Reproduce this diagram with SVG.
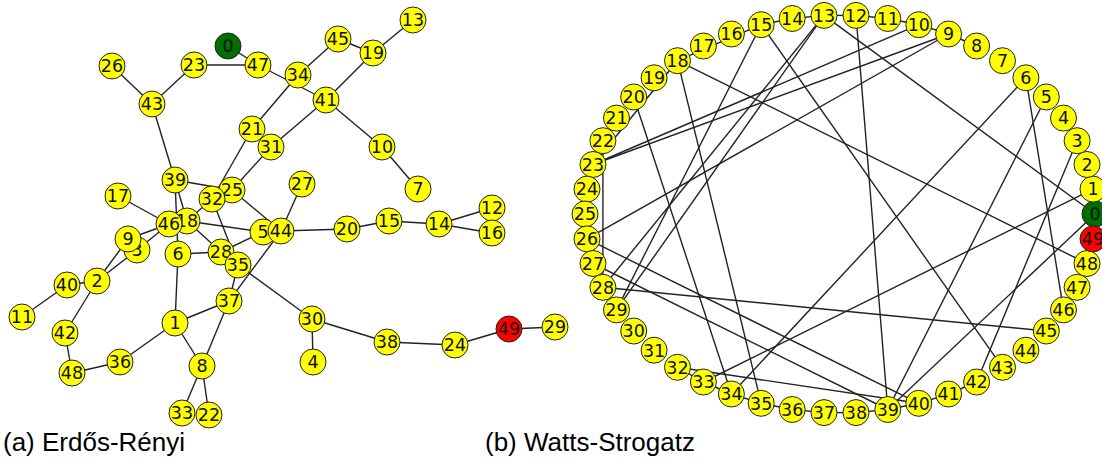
<svg xmlns="http://www.w3.org/2000/svg" width="1102" height="460" viewBox="0 0 1102 460">
<style>
.e line{stroke:#222;stroke-width:1.4;fill:none}
.n circle{fill:#ffff00;stroke:#222;stroke-width:1}
.n text{font-family:"DejaVu Sans",sans-serif;font-size:17.5px;fill:#111;text-anchor:middle}
.g circle{fill:#006f00}
.r circle{fill:#ff0000}
.cap{font-family:"Liberation Sans",Arial,sans-serif;font-size:26px;fill:#000}
</style>
<rect width="1102" height="460" fill="#fff"/>
<g id="edges-a" class="e">
<line x1="228" y1="46" x2="258" y2="65"/>
<line x1="194" y1="65" x2="258" y2="65"/>
<line x1="194" y1="65" x2="152" y2="104"/>
<line x1="112" y1="66" x2="152" y2="104"/>
<line x1="152" y1="104" x2="175" y2="180"/>
<line x1="258" y1="65" x2="326" y2="100"/>
<line x1="298" y1="75" x2="338" y2="39"/>
<line x1="338" y1="39" x2="373" y2="53"/>
<line x1="373" y1="53" x2="413" y2="20"/>
<line x1="373" y1="53" x2="326" y2="100"/>
<line x1="298" y1="75" x2="252" y2="129"/>
<line x1="326" y1="100" x2="271" y2="147"/>
<line x1="326" y1="100" x2="382" y2="147"/>
<line x1="382" y1="147" x2="418" y2="189"/>
<line x1="252" y1="129" x2="212" y2="199"/>
<line x1="271" y1="147" x2="232" y2="190"/>
<line x1="175" y1="180" x2="232" y2="190"/>
<line x1="175" y1="180" x2="178" y2="254"/>
<line x1="175" y1="180" x2="187" y2="221"/>
<line x1="118" y1="196" x2="169" y2="224"/>
<line x1="169" y1="224" x2="128" y2="239"/>
<line x1="169" y1="224" x2="137" y2="250"/>
<line x1="97" y1="281" x2="128" y2="239"/>
<line x1="97" y1="281" x2="137" y2="250"/>
<line x1="67" y1="285" x2="22" y2="317"/>
<line x1="67" y1="285" x2="97" y2="281"/>
<line x1="97" y1="281" x2="65" y2="333"/>
<line x1="65" y1="333" x2="72" y2="373"/>
<line x1="72" y1="373" x2="120" y2="362"/>
<line x1="120" y1="362" x2="175" y2="323"/>
<line x1="175" y1="323" x2="178" y2="254"/>
<line x1="175" y1="323" x2="229" y2="301"/>
<line x1="175" y1="323" x2="202" y2="366"/>
<line x1="202" y1="366" x2="229" y2="301"/>
<line x1="202" y1="366" x2="182" y2="413"/>
<line x1="202" y1="366" x2="209" y2="415"/>
<line x1="187" y1="221" x2="212" y2="199"/>
<line x1="187" y1="221" x2="221" y2="252"/>
<line x1="187" y1="221" x2="263" y2="232"/>
<line x1="212" y1="199" x2="238" y2="265"/>
<line x1="232" y1="190" x2="281" y2="231"/>
<line x1="281" y1="231" x2="302" y2="184"/>
<line x1="281" y1="231" x2="347" y2="229"/>
<line x1="347" y1="229" x2="389" y2="221"/>
<line x1="389" y1="221" x2="439" y2="224"/>
<line x1="439" y1="224" x2="492" y2="208"/>
<line x1="439" y1="224" x2="492" y2="233"/>
<line x1="221" y1="252" x2="263" y2="232"/>
<line x1="178" y1="254" x2="221" y2="252"/>
<line x1="238" y1="265" x2="229" y2="301"/>
<line x1="281" y1="231" x2="229" y2="301"/>
<line x1="238" y1="265" x2="312" y2="319"/>
<line x1="312" y1="319" x2="313" y2="362"/>
<line x1="312" y1="319" x2="387" y2="342"/>
<line x1="387" y1="342" x2="455" y2="345"/>
<line x1="455" y1="345" x2="509" y2="329"/>
<line x1="509" y1="329" x2="555" y2="327"/>
</g>
<g id="edges-b" class="e">
<line x1="824" y1="15.4" x2="1095" y2="214"/>
<line x1="1095" y1="214" x2="887.8" y2="409.5"/>
<line x1="1093" y1="189.1" x2="703.4" y2="382"/>
<line x1="1077.1" y1="140.7" x2="976.6" y2="382"/>
<line x1="1046.3" y1="97" x2="887.8" y2="409.5"/>
<line x1="1025.9" y1="77.8" x2="731.4" y2="394"/>
<line x1="1025.9" y1="77.8" x2="1063.5" y2="309.9"/>
<line x1="948.6" y1="34" x2="593" y2="164.5"/>
<line x1="948.6" y1="34" x2="587" y2="238.9"/>
<line x1="918.8" y1="24.7" x2="593" y2="164.5"/>
<line x1="856" y1="15.4" x2="887.8" y2="409.5"/>
<line x1="824" y1="15.4" x2="602.9" y2="287.3"/>
<line x1="824" y1="15.4" x2="616.5" y2="309.9"/>
<line x1="761.2" y1="24.7" x2="677.5" y2="60.7"/>
<line x1="761.2" y1="24.7" x2="616.5" y2="309.9"/>
<line x1="761.2" y1="24.7" x2="1002.5" y2="367.3"/>
<line x1="677.5" y1="60.7" x2="593" y2="164.5"/>
<line x1="677.5" y1="60.7" x2="761.2" y2="403.3"/>
<line x1="677.5" y1="60.7" x2="1087" y2="263.5"/>
<line x1="633.7" y1="97" x2="731.4" y2="394"/>
<line x1="602.9" y1="140.7" x2="602.9" y2="287.3"/>
<line x1="587" y1="238.9" x2="918.8" y2="403.3"/>
<line x1="593" y1="263.5" x2="887.8" y2="409.5"/>
<line x1="602.9" y1="287.3" x2="1046.3" y2="331"/>
<line x1="677.5" y1="367.3" x2="918.8" y2="403.3"/>
<line x1="976.6" y1="46" x2="948.6" y2="34"/>
<line x1="948.6" y1="34" x2="918.8" y2="24.7"/>
<line x1="918.8" y1="24.7" x2="887.8" y2="18.5"/>
<line x1="887.8" y1="18.5" x2="856" y2="15.4"/>
<line x1="856" y1="15.4" x2="824" y2="15.4"/>
<line x1="824" y1="15.4" x2="792.2" y2="18.5"/>
<line x1="792.2" y1="18.5" x2="761.2" y2="24.7"/>
<line x1="677.5" y1="367.3" x2="703.4" y2="382"/>
<line x1="703.4" y1="382" x2="731.4" y2="394"/>
<line x1="731.4" y1="394" x2="761.2" y2="403.3"/>
<line x1="761.2" y1="403.3" x2="792.2" y2="409.5"/>
<line x1="792.2" y1="409.5" x2="824" y2="412.6"/>
<line x1="824" y1="412.6" x2="856" y2="412.6"/>
<line x1="856" y1="412.6" x2="887.8" y2="409.5"/>
<line x1="887.8" y1="409.5" x2="918.8" y2="403.3"/>
<line x1="918.8" y1="403.3" x2="948.6" y2="394"/>
<line x1="948.6" y1="394" x2="976.6" y2="382"/>
</g>
<g id="a-n0" class="n g"><circle cx="228" cy="46" r="13"/><text x="228" y="52.3">0</text></g>
<g id="a-n1" class="n"><circle cx="175" cy="323" r="13"/><text x="175" y="329.3">1</text></g>
<g id="a-n2" class="n"><circle cx="97" cy="281" r="13"/><text x="97" y="287.3">2</text></g>
<g id="a-n3" class="n"><circle cx="137" cy="250" r="13"/><text x="137" y="256.3">3</text></g>
<g id="a-n4" class="n"><circle cx="313" cy="362" r="13"/><text x="313" y="368.3">4</text></g>
<g id="a-n5" class="n"><circle cx="263" cy="232" r="13"/><text x="263" y="238.3">5</text></g>
<g id="a-n6" class="n"><circle cx="178" cy="254" r="13"/><text x="178" y="260.3">6</text></g>
<g id="a-n7" class="n"><circle cx="418" cy="189" r="13"/><text x="418" y="195.3">7</text></g>
<g id="a-n8" class="n"><circle cx="202" cy="366" r="13"/><text x="202" y="372.3">8</text></g>
<g id="a-n9" class="n"><circle cx="128" cy="239" r="13"/><text x="128" y="245.3">9</text></g>
<g id="a-n10" class="n"><circle cx="382" cy="147" r="13"/><text x="382" y="153.3">10</text></g>
<g id="a-n11" class="n"><circle cx="22" cy="317" r="13"/><text x="22" y="323.3">11</text></g>
<g id="a-n12" class="n"><circle cx="492" cy="208" r="13"/><text x="492" y="214.3">12</text></g>
<g id="a-n13" class="n"><circle cx="413" cy="20" r="13"/><text x="413" y="26.3">13</text></g>
<g id="a-n14" class="n"><circle cx="439" cy="224" r="13"/><text x="439" y="230.3">14</text></g>
<g id="a-n15" class="n"><circle cx="389" cy="221" r="13"/><text x="389" y="227.3">15</text></g>
<g id="a-n16" class="n"><circle cx="492" cy="233" r="13"/><text x="492" y="239.3">16</text></g>
<g id="a-n17" class="n"><circle cx="118" cy="196" r="13"/><text x="118" y="202.3">17</text></g>
<g id="a-n18" class="n"><circle cx="187" cy="221" r="13"/><text x="187" y="227.3">18</text></g>
<g id="a-n19" class="n"><circle cx="373" cy="53" r="13"/><text x="373" y="59.3">19</text></g>
<g id="a-n20" class="n"><circle cx="347" cy="229" r="13"/><text x="347" y="235.3">20</text></g>
<g id="a-n21" class="n"><circle cx="252" cy="129" r="13"/><text x="252" y="135.3">21</text></g>
<g id="a-n22" class="n"><circle cx="209" cy="415" r="13"/><text x="209" y="421.3">22</text></g>
<g id="a-n23" class="n"><circle cx="194" cy="65" r="13"/><text x="194" y="71.3">23</text></g>
<g id="a-n24" class="n"><circle cx="455" cy="345" r="13"/><text x="455" y="351.3">24</text></g>
<g id="a-n25" class="n"><circle cx="232" cy="190" r="13"/><text x="232" y="196.3">25</text></g>
<g id="a-n26" class="n"><circle cx="112" cy="66" r="13"/><text x="112" y="72.3">26</text></g>
<g id="a-n27" class="n"><circle cx="302" cy="184" r="13"/><text x="302" y="190.3">27</text></g>
<g id="a-n28" class="n"><circle cx="221" cy="252" r="13"/><text x="221" y="258.3">28</text></g>
<g id="a-n29" class="n"><circle cx="555" cy="327" r="13"/><text x="555" y="333.3">29</text></g>
<g id="a-n30" class="n"><circle cx="312" cy="319" r="13"/><text x="312" y="325.3">30</text></g>
<g id="a-n31" class="n"><circle cx="271" cy="147" r="13"/><text x="271" y="153.3">31</text></g>
<g id="a-n32" class="n"><circle cx="212" cy="199" r="13"/><text x="212" y="205.3">32</text></g>
<g id="a-n33" class="n"><circle cx="182" cy="413" r="13"/><text x="182" y="419.3">33</text></g>
<g id="a-n34" class="n"><circle cx="298" cy="75" r="13"/><text x="298" y="81.3">34</text></g>
<g id="a-n35" class="n"><circle cx="238" cy="265" r="13"/><text x="238" y="271.3">35</text></g>
<g id="a-n36" class="n"><circle cx="120" cy="362" r="13"/><text x="120" y="368.3">36</text></g>
<g id="a-n37" class="n"><circle cx="229" cy="301" r="13"/><text x="229" y="307.3">37</text></g>
<g id="a-n38" class="n"><circle cx="387" cy="342" r="13"/><text x="387" y="348.3">38</text></g>
<g id="a-n39" class="n"><circle cx="175" cy="180" r="13"/><text x="175" y="186.3">39</text></g>
<g id="a-n40" class="n"><circle cx="67" cy="285" r="13"/><text x="67" y="291.3">40</text></g>
<g id="a-n41" class="n"><circle cx="326" cy="100" r="13"/><text x="326" y="106.3">41</text></g>
<g id="a-n42" class="n"><circle cx="65" cy="333" r="13"/><text x="65" y="339.3">42</text></g>
<g id="a-n43" class="n"><circle cx="152" cy="104" r="13"/><text x="152" y="110.3">43</text></g>
<g id="a-n44" class="n"><circle cx="281" cy="231" r="13"/><text x="281" y="237.3">44</text></g>
<g id="a-n45" class="n"><circle cx="338" cy="39" r="13"/><text x="338" y="45.3">45</text></g>
<g id="a-n46" class="n"><circle cx="169" cy="224" r="13"/><text x="169" y="230.3">46</text></g>
<g id="a-n47" class="n"><circle cx="258" cy="65" r="13"/><text x="258" y="71.3">47</text></g>
<g id="a-n48" class="n"><circle cx="72" cy="373" r="13"/><text x="72" y="379.3">48</text></g>
<g id="a-n49" class="n r"><circle cx="509" cy="329" r="13"/><text x="509" y="335.3">49</text></g>
<g id="b-n0" class="n g"><circle cx="1095" cy="214" r="13"/><text x="1095" y="220.3">0</text></g>
<g id="b-n1" class="n"><circle cx="1093" cy="189.1" r="13"/><text x="1093" y="195.4">1</text></g>
<g id="b-n2" class="n"><circle cx="1087" cy="164.5" r="13"/><text x="1087" y="170.8">2</text></g>
<g id="b-n3" class="n"><circle cx="1077.1" cy="140.7" r="13"/><text x="1077.1" y="147">3</text></g>
<g id="b-n4" class="n"><circle cx="1063.5" cy="118.1" r="13"/><text x="1063.5" y="124.4">4</text></g>
<g id="b-n5" class="n"><circle cx="1046.3" cy="97" r="13"/><text x="1046.3" y="103.3">5</text></g>
<g id="b-n6" class="n"><circle cx="1025.9" cy="77.8" r="13"/><text x="1025.9" y="84.1">6</text></g>
<g id="b-n7" class="n"><circle cx="1002.5" cy="60.7" r="13"/><text x="1002.5" y="67">7</text></g>
<g id="b-n8" class="n"><circle cx="976.6" cy="46" r="13"/><text x="976.6" y="52.3">8</text></g>
<g id="b-n9" class="n"><circle cx="948.6" cy="34" r="13"/><text x="948.6" y="40.3">9</text></g>
<g id="b-n10" class="n"><circle cx="918.8" cy="24.7" r="13"/><text x="918.8" y="31">10</text></g>
<g id="b-n11" class="n"><circle cx="887.8" cy="18.5" r="13"/><text x="887.8" y="24.8">11</text></g>
<g id="b-n12" class="n"><circle cx="856" cy="15.4" r="13"/><text x="856" y="21.7">12</text></g>
<g id="b-n13" class="n"><circle cx="824" cy="15.4" r="13"/><text x="824" y="21.7">13</text></g>
<g id="b-n14" class="n"><circle cx="792.2" cy="18.5" r="13"/><text x="792.2" y="24.8">14</text></g>
<g id="b-n15" class="n"><circle cx="761.2" cy="24.7" r="13"/><text x="761.2" y="31">15</text></g>
<g id="b-n16" class="n"><circle cx="731.4" cy="34" r="13"/><text x="731.4" y="40.3">16</text></g>
<g id="b-n17" class="n"><circle cx="703.4" cy="46" r="13"/><text x="703.4" y="52.3">17</text></g>
<g id="b-n18" class="n"><circle cx="677.5" cy="60.7" r="13"/><text x="677.5" y="67">18</text></g>
<g id="b-n19" class="n"><circle cx="654.1" cy="77.8" r="13"/><text x="654.1" y="84.1">19</text></g>
<g id="b-n20" class="n"><circle cx="633.7" cy="97" r="13"/><text x="633.7" y="103.3">20</text></g>
<g id="b-n21" class="n"><circle cx="616.5" cy="118.1" r="13"/><text x="616.5" y="124.4">21</text></g>
<g id="b-n22" class="n"><circle cx="602.9" cy="140.7" r="13"/><text x="602.9" y="147">22</text></g>
<g id="b-n23" class="n"><circle cx="593" cy="164.5" r="13"/><text x="593" y="170.8">23</text></g>
<g id="b-n24" class="n"><circle cx="587" cy="189.1" r="13"/><text x="587" y="195.4">24</text></g>
<g id="b-n25" class="n"><circle cx="585" cy="214" r="13"/><text x="585" y="220.3">25</text></g>
<g id="b-n26" class="n"><circle cx="587" cy="238.9" r="13"/><text x="587" y="245.2">26</text></g>
<g id="b-n27" class="n"><circle cx="593" cy="263.5" r="13"/><text x="593" y="269.8">27</text></g>
<g id="b-n28" class="n"><circle cx="602.9" cy="287.3" r="13"/><text x="602.9" y="293.6">28</text></g>
<g id="b-n29" class="n"><circle cx="616.5" cy="309.9" r="13"/><text x="616.5" y="316.2">29</text></g>
<g id="b-n30" class="n"><circle cx="633.7" cy="331" r="13"/><text x="633.7" y="337.3">30</text></g>
<g id="b-n31" class="n"><circle cx="654.1" cy="350.2" r="13"/><text x="654.1" y="356.5">31</text></g>
<g id="b-n32" class="n"><circle cx="677.5" cy="367.3" r="13"/><text x="677.5" y="373.6">32</text></g>
<g id="b-n33" class="n"><circle cx="703.4" cy="382" r="13"/><text x="703.4" y="388.3">33</text></g>
<g id="b-n34" class="n"><circle cx="731.4" cy="394" r="13"/><text x="731.4" y="400.3">34</text></g>
<g id="b-n35" class="n"><circle cx="761.2" cy="403.3" r="13"/><text x="761.2" y="409.6">35</text></g>
<g id="b-n36" class="n"><circle cx="792.2" cy="409.5" r="13"/><text x="792.2" y="415.8">36</text></g>
<g id="b-n37" class="n"><circle cx="824" cy="412.6" r="13"/><text x="824" y="418.9">37</text></g>
<g id="b-n38" class="n"><circle cx="856" cy="412.6" r="13"/><text x="856" y="418.9">38</text></g>
<g id="b-n39" class="n"><circle cx="887.8" cy="409.5" r="13"/><text x="887.8" y="415.8">39</text></g>
<g id="b-n40" class="n"><circle cx="918.8" cy="403.3" r="13"/><text x="918.8" y="409.6">40</text></g>
<g id="b-n41" class="n"><circle cx="948.6" cy="394" r="13"/><text x="948.6" y="400.3">41</text></g>
<g id="b-n42" class="n"><circle cx="976.6" cy="382" r="13"/><text x="976.6" y="388.3">42</text></g>
<g id="b-n43" class="n"><circle cx="1002.5" cy="367.3" r="13"/><text x="1002.5" y="373.6">43</text></g>
<g id="b-n44" class="n"><circle cx="1025.9" cy="350.2" r="13"/><text x="1025.9" y="356.5">44</text></g>
<g id="b-n45" class="n"><circle cx="1046.3" cy="331" r="13"/><text x="1046.3" y="337.3">45</text></g>
<g id="b-n46" class="n"><circle cx="1063.5" cy="309.9" r="13"/><text x="1063.5" y="316.2">46</text></g>
<g id="b-n47" class="n"><circle cx="1077.1" cy="287.3" r="13"/><text x="1077.1" y="293.6">47</text></g>
<g id="b-n48" class="n"><circle cx="1087" cy="263.5" r="13"/><text x="1087" y="269.8">48</text></g>
<g id="b-n49" class="n r"><circle cx="1093" cy="238.9" r="13"/><text x="1093" y="245.2">49</text></g>
<text class="cap" x="3" y="451">(a) Erdős-Rényi</text>
<text class="cap" x="485" y="451">(b) Watts-Strogatz</text>
</svg>
